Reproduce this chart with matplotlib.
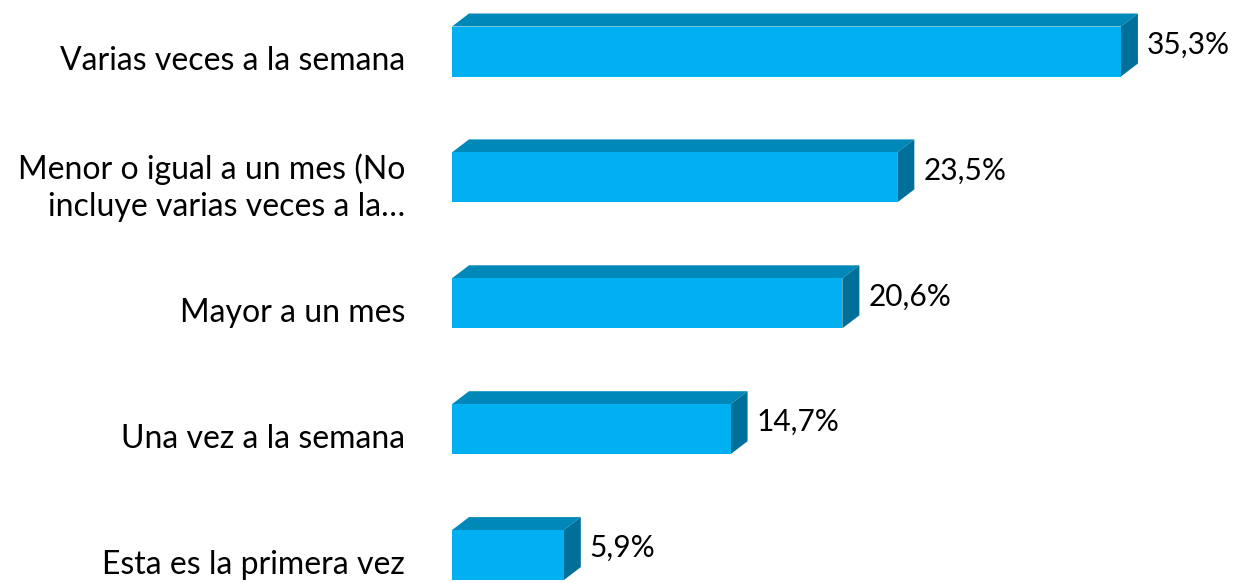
import matplotlib
matplotlib.use("Agg")
import matplotlib.pyplot as plt
from matplotlib.patches import Polygon

categories = [
    "Varias veces a la semana",
    "Menor o igual a un mes (No\nincluye varias veces a la…",
    "Mayor a un mes",
    "Una vez a la semana",
    "Esta es la primera vez",
]
values = [35.3, 23.5, 20.6, 14.7, 5.9]
value_labels = ["35,3%", "23,5%", "20,6%", "14,7%", "5,9%"]

front_color = "#00B0F0"
top_color = "#0088B8"
side_color = "#00709A"

plt.rcParams['font.family'] = ['Lato', 'DejaVu Sans']

fig = plt.figure(figsize=(12.4, 5.83), dpi=100)
ax = fig.add_axes([0, 0, 1, 1])

px_per_unit = 18.95   # pixels per percent
row_px = 125.9        # pixels per category
ax.set_xlim(-452 / px_per_unit, (1240 - 452) / px_per_unit)
ax.set_ylim((583 - 51.5) / row_px, -51.5 / row_px)
ax.axis('off')

bar_h = 50 / row_px
dx = 17 / px_per_unit
dy = 13 / row_px

for i, (cat, v, lab) in enumerate(zip(categories, values, value_labels)):
    ax.barh(i, v, height=bar_h, color=front_color, zorder=3)
    top = i - bar_h / 2
    bot = i + bar_h / 2
    # top face
    ax.add_patch(Polygon([(0, top), (v, top), (v + dx, top - dy), (dx, top - dy)],
                         closed=True, facecolor=top_color, edgecolor='none', zorder=2))
    # side face
    ax.add_patch(Polygon([(v, top), (v + dx, top - dy), (v + dx, bot - dy), (v, bot)],
                         closed=True, facecolor=side_color, edgecolor='none', zorder=2))
    ax.text(v + dx + 9 / px_per_unit, i - 7 / row_px, lab, ha='left', va='center',
            fontsize=21.5, color='black')
    ax.text(-47 / px_per_unit, i + 10 / row_px, cat, ha='right', va='center',
            multialignment='right', fontsize=23, color='black', linespacing=1.3)

fig.savefig("out.png", dpi=100)
